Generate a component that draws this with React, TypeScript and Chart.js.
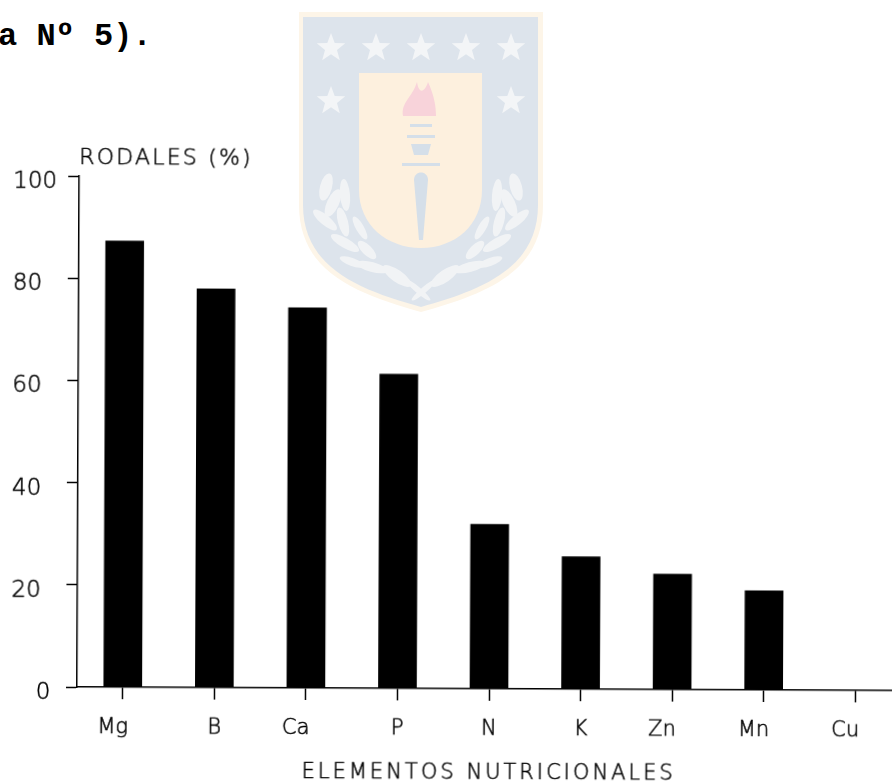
import React, { useEffect, useRef } from "react";
import { Chart, registerables } from "chart.js";

Chart.register(...registerables);

const categories = ["Mg", "B", "Ca", "P", "N", "K", "Zn", "Mn", "Cu"];
const rodales = [87.3, 78.0, 74.4, 61.5, 32.2, 25.9, 22.6, 19.4, 0];
const yTicks = [0, 20, 40, 60, 80, 100];
const yTitle = "RODALES (%)";
const xTitle = "ELEMENTOS NUTRICIONALES";
const headerText = "a Nº 5).";

const FONT = "'DejaVu Sans', sans-serif";

const starPoints = (cx: number, cy: number, r: number) => {
  const pts: string[] = [];
  for (let i = 0; i < 10; i++) {
    const rad = i % 2 === 0 ? r : r * 0.42;
    const a = (Math.PI * i) / 5 - Math.PI / 2;
    pts.push(`${cx + rad * Math.cos(a)},${cy + rad * Math.sin(a)}`);
  }
  return pts.join(" ");
};

const stars = [
  [331, 48], [376, 48], [421, 48], [466, 48], [511, 48], [331, 101], [511, 101],
];
const leaves = [
  [326, 187, 6, 14, 15], [333, 203, 6, 15, 25], [345, 195, 5, 16, -5],
  [325, 220, 5, 15, -50], [343, 222, 5, 15, -15], [360, 228, 4, 13, -30],
  [345, 243, 5, 16, -60], [367, 250, 5, 12, -45], [352, 262, 4, 13, -70],
  [372, 267, 5, 16, -75], [397, 276, 6, 17, -55], [418, 290, 3, 16, -50],
];

function Crest() {
  return (
    <svg
      width={892}
      height={781}
      style={{ position: "absolute", left: 0, top: 0, filter: "blur(0.7px)" }}
    >
      <path d="M299 12 H543 V205 C543 275 480 295 421 312 C362 295 299 275 299 205 Z" fill="#fdf5e8" />
      <path d="M303 17 H538 V205 C538 270 478 291 421 307 C364 291 303 270 303 205 Z" fill="#dde4ec" />
      <path d="M359 73 H482 V190 C482 225 455 248 421 248 C387 248 359 225 359 190 Z" fill="#fdf0de" />
      {stars.map(([x, y], i) => (
        <polygon key={i} points={starPoints(x, y, 15)} fill="#f3f5f7" />
      ))}
      {leaves.map(([x, y, rx, ry, rot], i) => (
        <g key={i}>
          <ellipse cx={x} cy={y} rx={rx} ry={ry} transform={`rotate(${rot} ${x} ${y})`} fill="#f1f3f5" />
          <ellipse cx={842 - x} cy={y} rx={rx} ry={ry} transform={`rotate(${-rot} ${842 - x} ${y})`} fill="#f1f3f5" />
        </g>
      ))}
      <path d="M403 116 C401 102 412 98 417 82 C419 95 425 92 428 82 C434 95 436 106 436 116 Z" fill="#f8d3da" />
      <rect x="410" y="124" width="22" height="3" fill="#d5dfe9" />
      <rect x="407" y="135" width="28" height="3" fill="#d5dfe9" />
      <path d="M411 144 H431 L428 155 H414 Z" fill="#d5dfe9" />
      <rect x="402" y="163" width="38" height="3" fill="#d5dfe9" />
      <path d="M414 180 C414 170 428 170 428 180 L423 240 H419 Z" fill="#d5dfe9" />
    </svg>
  );
}

export default function App() {
  const ref = useRef<HTMLCanvasElement>(null);

  useEffect(() => {
    const canvas = ref.current!;
    const titlesPlugin = {
      id: "titlesPlugin",
      afterDraw(chart: any) {
        const { ctx, scales } = chart;
        ctx.save();
        ctx.fillStyle = "#000";
        ctx.strokeStyle = "#000";
        ctx.lineWidth = 0.5;
        ctx.textBaseline = "alphabetic";
        ctx.textAlign = "left";
        const write = (text: string, x: number, y: number) => {
          ctx.fillText(text, x, y);
          ctx.strokeText(text, x, y);
        };
        ctx.font = `200 22px ${FONT}`;
        ctx.letterSpacing = "2.2px";
        write(yTitle, scales.y.left + scales.y.width, scales.y.getPixelForValue(100) - 12);
        ctx.font = `200 21px ${FONT}`;
        ctx.letterSpacing = "3px";
        write(xTitle, 302, 777);
        ctx.restore();
      },
    };
    const chart = new Chart(canvas, {
      type: "bar",
      data: {
        labels: categories,
        datasets: [
          {
            data: rodales,
            backgroundColor: "#000",
            borderWidth: 0,
            barThickness: 38,
          },
        ],
      },
      plugins: [titlesPlugin],
      options: {
        animation: false,
        responsive: false,
        layout: { padding: { top: 176, right: 0, bottom: 0, left: 0 } },
        plugins: { legend: { display: false }, tooltip: { enabled: false } },
        scales: {
          x: {
            afterFit: (s: any) => {
              s.height = 94;
            },
            border: { color: "#000", width: 1.5 },
            grid: {
              offset: false,
              drawOnChartArea: false,
              color: "#000",
              tickColor: "#000",
              tickLength: 12,
              tickWidth: 1.5,
            },
            ticks: {
              color: "#000",
              padding: 16,
              maxRotation: 0,
              autoSkip: false,
              textStrokeColor: "#000",
              textStrokeWidth: 0.5,
              font: { family: FONT, size: 21, weight: "200" },
              callback: (_v: any, i: number) =>
                categories[i].length > 1 ? categories[i] + "   " : categories[i],
            },
          },
          y: {
            min: 0,
            max: 100,
            afterFit: (s: any) => {
              s.width = 77;
            },
            afterBuildTicks: (s: any) => {
              s.ticks = yTicks.map((value) => ({ value }));
            },
            border: { color: "#000", width: 1.5 },
            grid: {
              drawOnChartArea: false,
              tickColor: "#000",
              tickLength: 11,
              tickWidth: 1.5,
            },
            ticks: {
              color: "#000",
              padding: 11,
              labelOffset: 6,
              textStrokeColor: "#000",
              textStrokeWidth: 0.5,
              font: { family: FONT, size: 23, weight: "200" },
              callback: (v: any) =>
                v === 0 ? v + "\u2009" : v === 100 ? String(v) : v + "  ",
            },
          },
        },
      },
    });
    return () => chart.destroy();
  }, []);

  return (
    <div
      style={{
        position: "absolute",
        left: 0,
        top: 0,
        width: 892,
        height: 781,
        overflow: "hidden",
        background: "#fff",
      }}
    >
      <Crest />
      <div
        style={{
          position: "absolute",
          left: -2,
          top: 18,
          font: "bold 32px 'Liberation Mono', monospace",
          color: "#000",
          whiteSpace: "pre",
        }}
      >
        {headerText}
      </div>
      <canvas
        ref={ref}
        width={901}
        height={781}
        style={{
          position: "absolute",
          left: 0,
          top: 0,
          transform: "rotate(0.25deg)",
          transformOrigin: "77px 687px",
        }}
      />
    </div>
  );
}
